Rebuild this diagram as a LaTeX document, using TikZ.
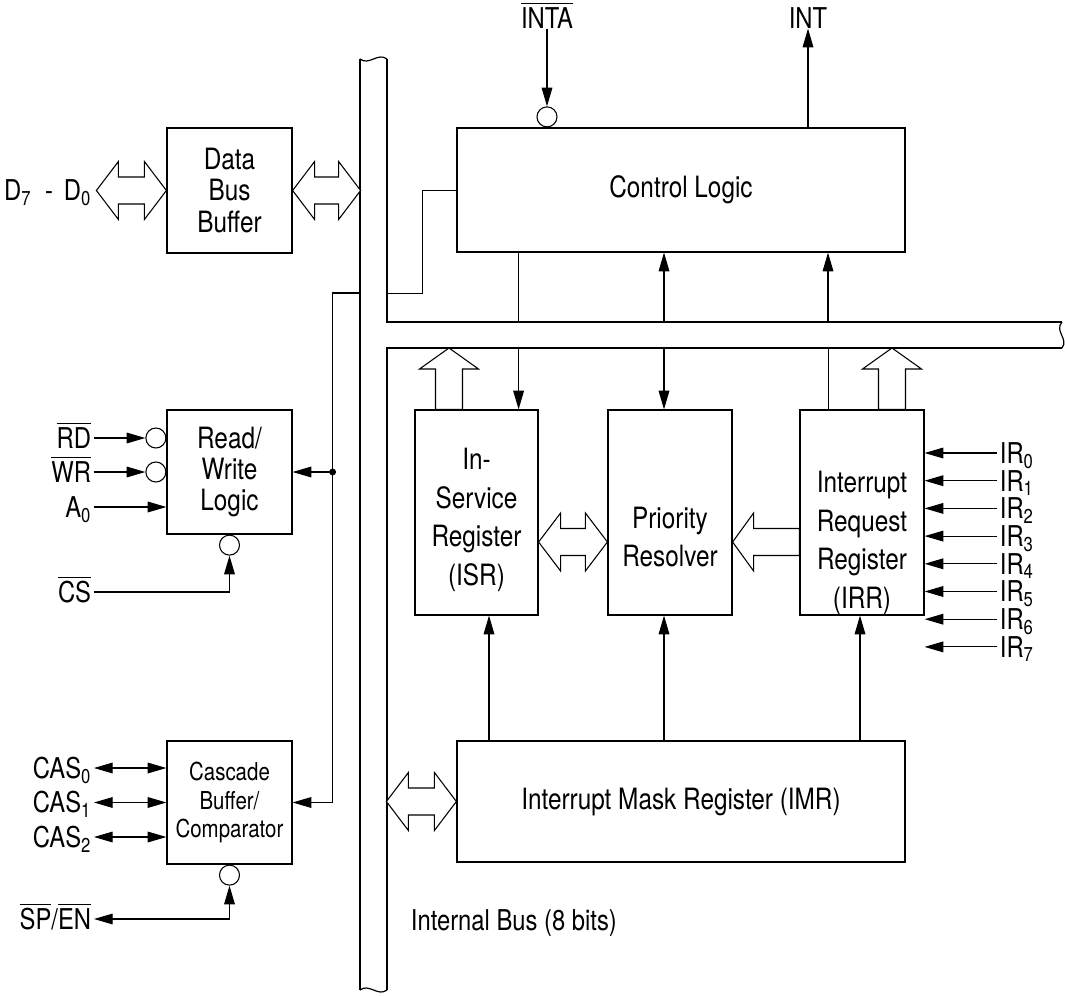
\documentclass[tikz,border=0pt]{standalone}
\usepackage{fontspec}
\setmainfont[FakeStretch=0.83]{TeX Gyre Heros}
\usepackage{amsmath}
\usepackage{tikz}
\usetikzlibrary{arrows.meta, calc}

% hollow bus arrows, drawn in the units of the picture
\newcommand{\dblbus}[2]{%
\draw [line width=0.8pt, fill=white] (#1) -- ++(22,-29) -- ++(0,15.5) -- ($(#2)+(-22,-13.5)$) -- ++(0,-15.5) -- (#2) -- ++(-22,29) -- ++(0,-15.5) -- ($(#1)+(22,13.5)$) -- ++(0,15.5) -- cycle ;}
\newcommand{\lbus}[2]{%
\draw [line width=0.8pt, fill=white] (#1) -- ++(21,-29) -- ++(0,15.5) -- ($(#2)+(0,-13.5)$) -- ++(0,27) -- ($(#1)+(21,13.5)$) -- ++(0,15.5) -- cycle ;}
\newcommand{\ubus}[2]{%
\draw [line width=0.8pt, fill=white] (#1) -- ++(29.5,21) -- ++(-16,0) -- ($(#2)+(13.5,0)$) -- ++(-27,0) -- ($(#1)+(-13.5,21)$) -- ++(-16,0) -- cycle ;}

\begin{document}
\begin{tikzpicture}[x=0.75pt,y=0.75pt,yscale=-1,xscale=1,
  block/.style={draw, line width=0.9pt, inner sep=0pt, align=center, font=\fontsize{22}{23.5}\selectfont},
  tall/.style={align=center, inner sep=0pt, font=\fontsize{22}{29}\selectfont},
  pinlbl/.style={inner xsep=2pt, inner ysep=0pt, text height=15.5pt, text depth=0pt, font=\fontsize{21.5}{21.5}\selectfont},
  sig/.style={line width=0.8pt, -{Triangle[length=14pt,width=8pt]}},
  dsig/.style={line width=0.8pt, {Triangle[length=14pt,width=8pt]}-{Triangle[length=14pt,width=8pt]}},
  bubble/.style={draw, circle, line width=0.8pt, minimum size=15pt, inner sep=0pt}]
\useasboundingbox (0,0) rectangle (1065,996);

%Internal bus
\draw [line width=0.9pt] (360,59) -- (360,990) ;
\draw [line width=0.9pt] (387,59) -- (387,322) -- (1062,322) ;
\draw [line width=0.9pt] (1062,348) -- (387,348) -- (387,990) ;
\draw [line width=0.9pt] (360,59) .. controls (369,66) and (378,52) .. (387,59) ;
\draw [line width=0.9pt] (360,990) .. controls (369,983) and (378,997) .. (387,990) ;
\draw [line width=0.9pt] (1062,322) .. controls (1054,331) and (1069,339) .. (1062,348) ;
\coordinate (bustop) at (387,322) ;
\coordinate (busbot) at (387,348) ;
\coordinate (ctlbus) at (387,293) ;
\coordinate (lftbus) at (360,293) ;

% Blocks
\node [block, minimum width=93.75pt, minimum height=93.75pt] (dbb) at (229.5,190.5) {Data\\Bus\\Buffer};
\node [block, minimum width=93.75pt, minimum height=93pt] (rwl) at (229.5,472) {Read/\\Write\\Logic};
\node [block, minimum width=93.75pt, minimum height=92.25pt, font=\fontsize{18.5}{21.4}\selectfont] (cbc) at (229.5,802.5) {Cascade\\Buffer/\\Comparator};
\node [block, minimum width=336pt, minimum height=93pt] (ctl) at (681,190) {Control Logic};
\node [block, minimum width=92.25pt, minimum height=153.75pt] (isr) at (476.5,512.5) {};
\node [block, minimum width=93pt, minimum height=153.75pt] (pr) at (670,512.5) {};
\node [block, minimum width=93pt, minimum height=153.75pt] (irr) at (862,512.5) {};
\node [block, minimum width=336pt, minimum height=90.75pt] (imr) at (681,801.5) {Interrupt Mask Register (IMR)};
% Text Node
\node [tall] (isrtxt) at (476.5,520) {In-\\Service\\Register\\(ISR)};
\node [tall] (prtxt) at (670,537) {Priority\\Resolver};
\node [tall] (irrtxt) at (862,543) {Interrupt\\Request\\Register\\(IRR)};
\node [pinlbl, anchor=west] (ibus) at (408,920) {Internal Bus (8 bits)};

% Data bus buffer
\node [pinlbl, anchor=east] (dbus) at (94,190.5) {D\textsubscript{7}\hspace{0.25em} - \hspace{0.15em}D\textsubscript{0}};
\coordinate (dpin) at ($(dbb.west)+(-70,0)$) ;
\coordinate (dbbus) at ($(dbb.east)+(68,0)$) ;
\dblbus{dpin}{dbb.west}
\dblbus{dbb.east}{dbbus}

% Read/write logic
\node [pinlbl, anchor=east] (rd) at (94,438) {$\overline{\mbox{RD}}$};
\node [pinlbl, anchor=east] (wr) at (94,472) {$\overline{\mbox{WR}}$};
\node [pinlbl, anchor=east] (a0) at (94,507) {A\textsubscript{0}};
\node [pinlbl, anchor=east] (cs) at (94,592) {$\overline{\mbox{CS}}$};
\node [bubble, anchor=east] (rdb) at ($(rwl.west)+(0,-34)$) {};
\node [bubble, anchor=east] (wrb) at (rwl.west) {};
\node [bubble, anchor=north] (csb) at (rwl.south) {};
\draw [sig] (rd) -- (rdb) ;
\draw [sig] (wr) -- (wrb) ;
\draw [sig] (a0) -- (a0 -| rwl.west) ;
\draw [sig] (cs) -| (csb) ;
\coordinate (tap) at ($(rwl.east)+(40,0)$) ;
\draw [sig] (tap) -- (rwl.east) ;
\fill (tap) circle [radius=2.6pt] ;

% Cascade buffer/comparator
\foreach \i/\y in {0/768,1/802.5,2/837} {
  \node [pinlbl, anchor=east] (cas\i) at (94,\y) {CAS\textsubscript{\i}};
  \draw [dsig] (cas\i) -- (cas\i -| cbc.west) ;
}
\node [pinlbl, anchor=east] (spen) at (94,919) {$\overline{\mbox{SP}}\mbox{/}\overline{\mbox{EN}}$};
\node [bubble, anchor=north] (speb) at (cbc.south) {};
\draw [dsig] (speb) |- (spen) ;
\draw [sig] (lftbus) -| ($(cbc.east)+(40,0)$) -- (cbc.east) ;

% Control logic
\node [pinlbl] (inta) at (547,18) {$\overline{\mbox{INTA}}$};
\node [pinlbl] (int) at (808,18) {INT};
\node [bubble, anchor=south] (intab) at (ctl.north -| inta) {};
\draw [sig] (inta) -- (intab) ;
\draw [sig] (ctl.north -| int) -- (int) ;
\draw (ctl.west) -| ($(ctlbus)+(35,0)$) -- (ctlbus) ;

% Across the bus
\coordinate (isrin) at ($(isr.north east)+(-20,0)$) ;
\coordinate (prin) at ($(pr.north)+(-6,0)$) ;
\coordinate (irrin) at ($(irr.north)+(-34,0)$) ;
\draw (isrin |- ctl.south) -- (isrin |- bustop) ;
\draw [sig] (isrin |- busbot) -- (isrin) ;
\draw [sig] (prin |- bustop) -- (prin |- ctl.south) ;
\draw [sig] (prin |- busbot) -- (prin) ;
\draw [sig] (irrin |- bustop) -- (irrin |- ctl.south) ;
\draw (irrin |- busbot) -- (irrin) ;
\coordinate (isrT) at ($(isr.north)+(-27.5,0)$) ;
\coordinate (irrT) at ($(irr.north)+(30,0)$) ;
\ubus{isrT |- busbot}{isrT}
\ubus{irrT |- busbot}{irrT}

% Between registers
\coordinate (isrR) at ($(isr.east)+(0,29.5)$) ;
\coordinate (prL) at ($(pr.west)+(0,29.5)$) ;
\coordinate (prR) at ($(pr.east)+(0,29.5)$) ;
\coordinate (irrL) at ($(irr.west)+(0,29.5)$) ;
\dblbus{isrR}{prL}
\lbus{prR}{irrL}

% Interrupt mask register
\coordinate (isrout) at ($(isr.south)+(12.5,0)$) ;
\coordinate (prout) at ($(pr.south)+(-6,0)$) ;
\coordinate (irrout) at ($(irr.south)+(-2,0)$) ;
\draw [sig] (imr.north -| isrout) -- (isrout) ;
\draw [sig] (imr.north -| prout) -- (prout) ;
\draw [sig] (imr.north -| irrout) -- (irrout) ;
\coordinate (imrbus) at ($(imr.west)+(-70,0)$) ;
\dblbus{imrbus}{imr.west}

% Interrupt request inputs
\foreach \i in {0,...,7} {
  \pgfmathsetmacro\iry{453+27.7*\i}
  \node [pinlbl, anchor=west] (ir\i) at (997,\iry) {IR\textsubscript{\i}};
  \draw [sig] (ir\i) -- (ir\i -| irr.east) ;
}
\end{tikzpicture}
\end{document}
